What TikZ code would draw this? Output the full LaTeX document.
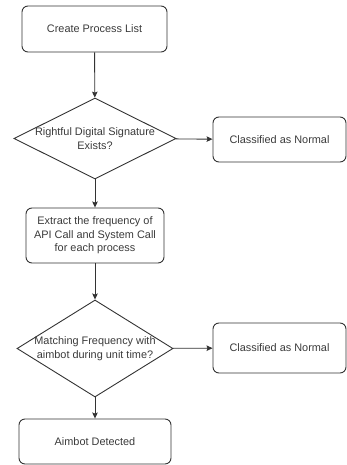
\documentclass[tikz,border=0pt]{standalone}
\usepackage{fontspec}
\setmainfont{Liberation Sans}
\usetikzlibrary{shapes.geometric,arrows.meta}
\definecolor{ink}{HTML}{333333}
\definecolor{txt}{HTML}{3A3A3A}
\begin{document}
\begin{tikzpicture}[x=1pt,y=-1pt,
  box/.style={draw=ink,line width=0.9pt,rounded corners=6pt,inner sep=0pt,
    font=\fontsize{10.9}{13.6}\selectfont,text=txt,align=center},
  dia/.style={draw=ink,line width=0.9pt,diamond,inner sep=0pt},
  lbl/.style={font=\fontsize{10.9}{13.6}\selectfont,text=txt,align=center,inner sep=0pt},
  arr/.style={draw=ink,line width=0.9pt,-{Stealth[length=6pt,width=5.5pt,inset=1pt]}}]
\useasboundingbox (0,0) rectangle (347,465);
\node[box,minimum width=145pt,minimum height=46pt] (b1) at (94.5,29) {Create Process List};
\node[dia,minimum width=162pt,minimum height=81pt] (d1) at (95,138.5) {};
\node[lbl] at (d1) {Rightful Digital Signature\\Exists?};
\node[box,minimum width=133pt,minimum height=45pt] (b2) at (279.5,139.5) {Classified as Normal};
\node[box,minimum width=138pt,minimum height=55pt] (b3) at (95,235.5) {Extract the frequency of\\API Call and System Call\\for each process};
\node[dia,minimum width=156pt,minimum height=97pt] (d2) at (95,348.5) {};
\node[lbl] at (d2) {Matching Frequency with\\aimbot during unit time?};
\node[box,minimum width=133pt,minimum height=50pt] (b4) at (279.5,348) {Classified as Normal};
\node[box,minimum width=152pt,minimum height=45pt] (b5) at (95,441.5) {Aimbot Detected};
\draw[arr] (b1) -- (d1);
\draw[arr] (d1) -- (b2);
\draw[arr] (d1) -- (b3);
\draw[arr] (b3) -- (d2);
\draw[arr] (d2) -- (b4);
\draw[arr] (d2) -- (b5);
\end{tikzpicture}
\end{document}
